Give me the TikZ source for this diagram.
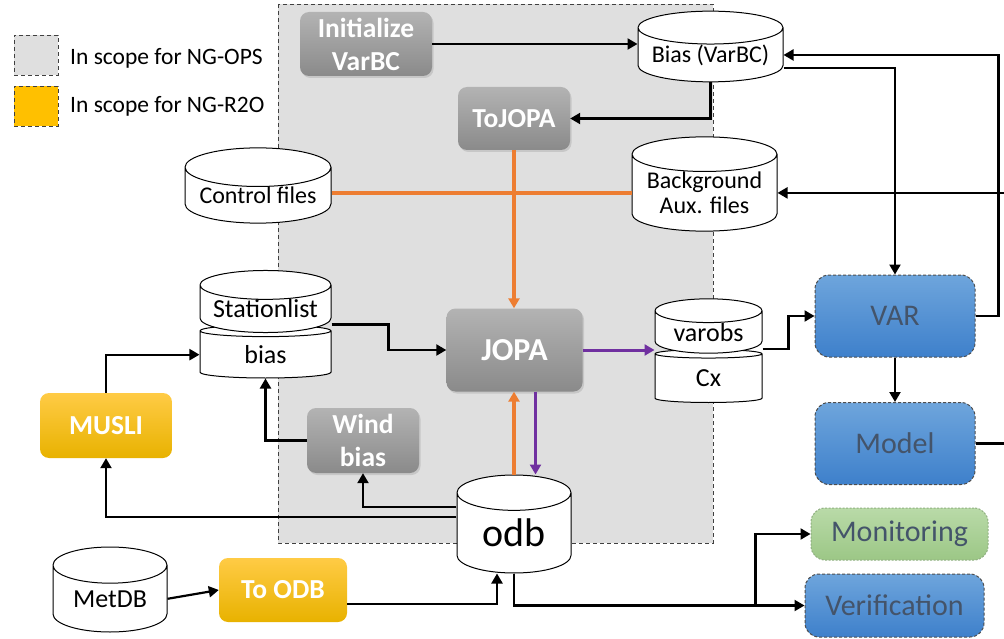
\documentclass[tikz,border=0pt]{standalone}
\usepackage{fontspec}
\setmainfont{Carlito}
\usepackage{tikz}
\usetikzlibrary{arrows.meta,calc,positioning,shapes.geometric,shadows}
\usepackage{xcolor}
\definecolor{ScopeFill}{HTML}{DFDFDF}
\definecolor{ScopeLine}{HTML}{404040}
\definecolor{ProcTop}{HTML}{B3B3B3}
\definecolor{ProcBot}{HTML}{8A8A8A}
\definecolor{RtoOTop}{HTML}{FFCB45}
\definecolor{RtoOBot}{HTML}{E8B200}
\definecolor{RtoOFlat}{HTML}{FFC000}
\definecolor{ExtTop}{HTML}{6EA5DC}
\definecolor{ExtBot}{HTML}{3E80CB}
\definecolor{ExtText}{HTML}{44546A}
\definecolor{ExtLine}{HTML}{4D4D4D}
\definecolor{MonTop}{HTML}{B9DAA8}
\definecolor{MonBot}{HTML}{9CC786}
\definecolor{MonLine}{HTML}{8FAF80}
\definecolor{FlowOrange}{HTML}{ED7D31}
\definecolor{FlowPurple}{HTML}{7030A0}

\begin{document}
\begin{tikzpicture}[
  x=1pt,y=-1pt,>=Latex,
  flow/.style={-{Triangle[length=10pt,width=11pt]},line width=2.2pt,line join=miter},
  oflow/.style={flow,draw=FlowOrange,line width=3.4pt},
  pflow/.style={flow,draw=FlowPurple,line width=3pt},
  scopebox/.style={draw=ScopeLine,fill=ScopeFill,line width=0.9pt,
    dash pattern=on 4pt off 3pt},
  legbox/.style={scopebox,minimum width=44pt,minimum height=40pt,inner sep=0pt},
  legtext/.style={inner sep=0pt,anchor=base west,font=\fontsize{23.5}{27}\selectfont},
  box/.style={rounded corners=9pt,inner sep=0pt,align=center,text=white,
    font=\bfseries\fontsize{27.5}{33}\selectfont},
  proc/.style={box,top color=ProcTop,bottom color=ProcBot,
    drop shadow={shadow xshift=1.5pt,shadow yshift=-2pt,opacity=0.25}},
  rtoo/.style={box,top color=RtoOTop,bottom color=RtoOBot},
  ext/.style={box,rounded corners=14pt,top color=ExtTop,bottom color=ExtBot,
    draw=ExtLine,line width=1pt,dash pattern=on 3pt off 2pt,text=ExtText,
    font=\fontsize{30}{36}\selectfont},
  mon/.style={ext,top color=MonTop,bottom color=MonBot,draw=MonLine,
    dash pattern=on 2pt off 1.5pt},
  db/.style={cylinder,shape border rotate=90,draw,fill=white,line width=1pt,
    inner sep=0pt,align=center,anchor=shape center,
    font=\fontsize{26}{30}\selectfont}
]
\useasboundingbox (0,0) rectangle (1004,639);

% NG-OPS scope area behind the OPS stages
\draw[scopebox] (278,4) rectangle (713,543);

% legend
\node[legbox] (legops) at (36,55) {};
\node[legbox,fill=RtoOFlat] (legrtoo) at (36,106) {};
\node[legtext] (legopstext) at (70,65) {In scope for NG-OPS};
\node[legtext] (legrtootext) at (70,113) {In scope for NG-R2O};

% processing steps
\node[proc,minimum width=132pt,minimum height=64pt] (initvbc) at (366,44) {Initialize\\VarBC};
\node[proc,minimum width=112pt,minimum height=63pt] (tojopa) at (514,118.5) {ToJOPA};
\node[proc,minimum width=136pt,minimum height=83pt,
  font=\bfseries\fontsize{32}{38}\selectfont] (jopa) at (514.5,350) {JOPA};
\node[proc,minimum width=112pt,minimum height=65pt] (windbias) at (363,440.5) {Wind\\bias};
\node[rtoo,minimum width=132pt,minimum height=65pt] (musli) at (106,425.5) {MUSLI};
\node[rtoo,minimum width=128pt,minimum height=64pt] (toodb) at (283,590) {To ODB};

% downstream systems
\node[ext,minimum width=160pt,minimum height=82pt] (var) at (895,316) {VAR};
\node[ext,minimum width=160pt,minimum height=82pt] (model) at (895,443.5) {Model};
\node[mon,minimum width=177pt,minimum height=52pt] (monit) at (899.5,534) {Monitoring};
\node[ext,minimum width=179pt,minimum height=63pt] (verif) at (894.5,605.5) {Verification};

% data stores (lower part of a stack first)
\node[db,minimum width=145pt,minimum height=69pt,aspect=0.28,
  font=\fontsize{24}{27}\selectfont] (biasvbc) at (710.5,46.5) {Bias (VarBC)};
\node[db,minimum width=146pt,minimum height=75pt,aspect=0.33,
  font=\fontsize{24}{27}\selectfont] (ctrl) at (258,185.5) {Control files};
\node[db,minimum width=145pt,minimum height=72pt,aspect=0.3,
  font=\fontsize{24}{25}\selectfont] (bgaux) at (704.5,184) {Background\\Aux. files};
\node[db,minimum width=107pt,minimum height=53pt,aspect=0.34] (cx) at (708.5,376) {Cx};
\node[db,minimum width=107pt,minimum height=53pt,aspect=0.34] (varobs) at (708.5,326) {varobs};
\node[db,minimum width=131pt,minimum height=53pt,aspect=0.275] (sbias) at (265.5,351.5) {bias};
\node[db,minimum width=131pt,minimum height=55pt,aspect=0.275] (stations) at (265.5,301.5) {Stationlist};
\node[db,minimum width=114pt,minimum height=98pt,aspect=0.56,
  font=\fontsize{40}{44}\selectfont] (odb) at (514,524) {odb};
\node[db,minimum width=114pt,minimum height=85pt,aspect=0.49] (metdb) at (110,589.5) {MetDB};

% control and background input to JOPA
\draw[oflow,-] (ctrl.east |- bgaux.west) -- (bgaux.west);
\draw[oflow] (tojopa.south) -- (tojopa.south |- jopa.north);
\draw[oflow] (odb.north) -- (odb.north |- jopa.south);
\draw[pflow] ([xshift=21pt]jopa.south) -- ([xshift=21pt]jopa.south |- odb.north);
\draw[pflow] (jopa.east) -- (jopa.east -| varobs.west);

% bias correction
\draw[flow] (initvbc.east) -- (initvbc.east -| biasvbc.west);
\draw[flow] (biasvbc.south) |- (tojopa.east);
\draw[flow] ([yshift=-13pt]biasvbc.east) -| (var.north);
\draw[flow] (var.east) -- ++(23,0) |- (biasvbc.east);
\draw[flow] (model.east) -- ++(40,0) |- (bgaux.east);
\draw[flow] (var.south) -- (model.north);
\draw[flow] (varobs.east |- cx.north) -- ++(26,0) |- (var.west);

% station lists and wind bias
\draw[flow] (stations.east |- sbias.north) -- ++(57,0) |- (jopa.west);
\draw[flow] (musli.north) |- (sbias.west);
\draw[flow] (windbias.west) -| (sbias.south);
\draw[flow] ([yshift=26pt]odb.west) -| (windbias.south);
\draw[flow] ([yshift=16pt]odb.west) -| (musli.south);

% observation input and output
\draw[flow] (metdb.east) -- (toodb.west);
\draw[flow] ([yshift=-14pt]toodb.east) -| ([xshift=-17pt]odb.south);
\draw[flow] (odb.south) |- (verif.west);
\draw[flow] ([xshift=-49pt]verif.west) |- (monit.west);

\end{tikzpicture}
\end{document}
